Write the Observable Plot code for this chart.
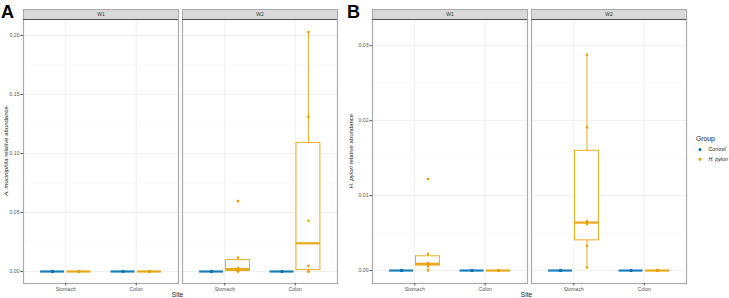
<!DOCTYPE html>
<html>
<head>
<meta charset="utf-8">
<script src="https://cdn.jsdelivr.net/npm/d3@7"></script>
<script src="https://cdn.jsdelivr.net/npm/@observablehq/plot@0.6"></script>
<style>
  body { margin: 0; background: #fff; }
  #fig { position: relative; width: 729px; height: 298px; overflow: hidden; background: #fff;
         font-family: "Liberation Sans", Arial, sans-serif; }
  #fig svg { position: absolute; top: 0; }
</style>
</head>
<body>
<div id="fig"></div>
<script>
const weeks = ["W1", "W2"];
const sites = ["Stomach", "Colon"];
const groups = ["Control", "H. pylori"];
const groupColors = ["#0072B2", "#E69F00"];

// A. muciniphila relative abundance, six mice per group
const akkW1StomachControl = [0, 0, 0, 0, 0, 0];
const akkW1StomachHp      = [0, 0, 0, 0, 0, 0];
const akkW1ColonControl   = [0, 0, 0, 0, 0, 0];
const akkW1ColonHp        = [0, 0, 0, 0, 0, 0];
const akkW2StomachControl = [0, 0, 0, 0, 0, 0];
const akkW2StomachHp      = [0, 0.0002, 0.0010, 0.0030, 0.0119, 0.0596];
const akkW2ColonControl   = [0, 0, 0, 0, 0, 0];
const akkW2ColonHp        = [0, 0, 0.0048, 0.0430, 0.1310, 0.2030];

// H. pylori relative abundance, six mice per group
const hpW1StomachControl = [0, 0, 0, 0, 0, 0];
const hpW1StomachHp      = [0, 0.0006, 0.0008, 0.0010, 0.0022, 0.0122];
const hpW1ColonControl   = [0, 0, 0, 0, 0, 0];
const hpW1ColonHp        = [0, 0, 0, 0, 0, 0];
const hpW2StomachControl = [0, 0, 0, 0, 0, 0];
const hpW2StomachHp      = [0.0004, 0.0033, 0.0062, 0.0066, 0.0191, 0.0288];
const hpW2ColonControl   = [0, 0, 0, 0, 0, 0];
const hpW2ColonHp        = [0, 0, 0, 0, 0, 0];

const akkTicks = [0, 0.05, 0.10, 0.15, 0.20];
const akkMinor = [0.025, 0.075, 0.125, 0.175];
const hpTicks = [0, 0.01, 0.02, 0.03];
const hpMinor = [0.005, 0.015, 0.025];

// long table: one row per mouse
function table(sets) {
  return sets.flatMap(([week, site, group, values]) =>
    values.map(value => ({week, site, group, value})));
}

const akkRows = table([
  ["W1", "Stomach", "Control", akkW1StomachControl],
  ["W1", "Stomach", "H. pylori", akkW1StomachHp],
  ["W1", "Colon", "Control", akkW1ColonControl],
  ["W1", "Colon", "H. pylori", akkW1ColonHp],
  ["W2", "Stomach", "Control", akkW2StomachControl],
  ["W2", "Stomach", "H. pylori", akkW2StomachHp],
  ["W2", "Colon", "Control", akkW2ColonControl],
  ["W2", "Colon", "H. pylori", akkW2ColonHp]
]);

const hpRows = table([
  ["W1", "Stomach", "Control", hpW1StomachControl],
  ["W1", "Stomach", "H. pylori", hpW1StomachHp],
  ["W1", "Colon", "Control", hpW1ColonControl],
  ["W1", "Colon", "H. pylori", hpW1ColonHp],
  ["W2", "Stomach", "Control", hpW2StomachControl],
  ["W2", "Stomach", "H. pylori", hpW2StomachHp],
  ["W2", "Colon", "Control", hpW2ColonControl],
  ["W2", "Colon", "H. pylori", hpW2ColonHp]
]);

// Tukey box statistics (quartiles, 1.5 IQR whiskers)
function boxStats(rows) {
  return d3.flatRollup(rows, v => {
    const vals = v.map(d => d.value).sort(d3.ascending);
    const q1 = d3.quantile(vals, 0.25);
    const median = d3.quantile(vals, 0.5);
    const q3 = d3.quantile(vals, 0.75);
    const iqr = q3 - q1;
    const lo = d3.min(vals.filter(x => x >= q1 - 1.5 * iqr));
    const hi = d3.max(vals.filter(x => x <= q3 + 1.5 * iqr));
    return {q1, median, q3, lo, hi};
  }, d => d.week, d => d.site, d => d.group)
  .map(([week, site, group, s]) => ({week, site, group, ...s}));
}

// dodge the two groups around each site position
const dodge = 0.1875, halfBox = 0.17;
const xpos = d => sites.indexOf(d.site) + 1 + (groups.indexOf(d.group) === 0 ? -dodge : dodge);

const H = 298, MT = 19, MB = 15;
const fontFamily = "Liberation Sans, Arial, sans-serif";

function boxPanel({rows, yDomain, ticks, minor, width, marginLeft, marginRight}) {
  const stats = boxStats(rows);
  return Plot.plot({
    width, height: H, marginTop: MT, marginBottom: MB, marginLeft, marginRight,
    style: {fontFamily, fontSize: "5.1px", background: "transparent", overflow: "visible"},
    fx: {domain: weeks, paddingInner: 0.026, paddingOuter: 0, label: null},
    x: {domain: [0.4, 2.6], label: null},
    y: {domain: yDomain, label: null},
    color: {domain: groups, range: groupColors},
    marks: [
      // facet strip
      Plot.frame({fill: "#d9d9d9", stroke: "#a9a9a9", strokeWidth: 1, insetTop: -10, insetBottom: H - MT - MB}),
      Plot.axisFx({anchor: "top", tickSize: 0, tickPadding: 3.2, label: null, fontSize: 5, color: "#333"}),
      // grid
      Plot.gridY(minor, {stroke: "#f4f4f4", strokeOpacity: 1, strokeWidth: 0.6}),
      Plot.gridY(ticks, {stroke: "#ebebeb", strokeOpacity: 1, strokeWidth: 0.8}),
      Plot.gridX([1, 2], {stroke: "#ebebeb", strokeOpacity: 1, strokeWidth: 0.8}),
      // boxplots
      Plot.ruleX(stats, {x: xpos, y1: "lo", y2: "hi", fx: "week", stroke: "group", strokeWidth: 1, strokeOpacity: 0.85}),
      Plot.rect(stats, {x1: d => xpos(d) - halfBox, x2: d => xpos(d) + halfBox, y1: "q1", y2: "q3",
        fx: "week", fill: "white", stroke: "group", strokeWidth: 1, strokeOpacity: 0.85}),
      Plot.ruleY(stats, {x1: d => xpos(d) - halfBox, x2: d => xpos(d) + halfBox, y: "median",
        fx: "week", stroke: "group", strokeWidth: 2.2, strokeOpacity: 0.9}),
      // individual mice
      Plot.dot(rows, {x: xpos, y: "value", fx: "week", fill: "group", r: 1.3}),
      // panel border
      Plot.frame({stroke: "#ababab", strokeWidth: 1.2}),
      Plot.ruleY([yDomain[1]], {stroke: "#555", strokeWidth: 1}),
      // axes
      Plot.axisY(ticks, {tickFormat: d3.format(".2f"), tickSize: 2.5, tickPadding: 1.5,
        label: null, color: "#555", fontSize: 5.1}),
      Plot.axisX([1, 2], {tickFormat: d => sites[d - 1], tickSize: 2.5, tickPadding: 1.5,
        label: null, color: "#555", fontSize: 5.1})
    ]
  });
}

function addTitles(svg, {letter, letterX, italic, rest, marginLeft, plotWidth, marginRight, titleX}) {
  const s = d3.select(svg);
  s.append("text").attr("x", letterX).attr("y", 17.5).attr("text-anchor", "start")
    .attr("font-family", fontFamily).attr("font-weight", "bold").attr("font-size", 18)
    .attr("fill", "#000").text(letter);
  const yt = s.append("text")
    .attr("transform", `translate(${titleX},${(MT + H - MB) / 2}) rotate(-90)`)
    .attr("text-anchor", "middle").attr("dominant-baseline", "middle")
    .attr("font-family", fontFamily).attr("font-size", 6).attr("fill", "#1a1a1a");
  yt.append("tspan").attr("font-style", "italic").text(italic);
  yt.append("tspan").text(rest);
  s.append("text")
    .attr("x", (marginLeft + plotWidth - marginRight) / 2 - 2).attr("y", 297)
    .attr("text-anchor", "middle")
    .attr("font-family", fontFamily).attr("font-size", 6.6).attr("fill", "#1a1a1a")
    .text("Site");
}

const fig = document.getElementById("fig");

const svgA = boxPanel({rows: akkRows, yDomain: [-0.01017, 0.21356], ticks: akkTicks, minor: akkMinor,
  width: 345, marginLeft: 22, marginRight: 8});
addTitles(svgA, {letter: "A", letterX: 1, italic: "A. muciniphila", rest: " relative abundance",
  marginLeft: 22, plotWidth: 345, marginRight: 8, titleX: 6});
svgA.style.left = "0px";
fig.appendChild(svgA);

const svgB = boxPanel({rows: hpRows, yDomain: [-0.00173, 0.0335], ticks: hpTicks, minor: hpMinor,
  width: 345, marginLeft: 26, marginRight: 4});
addTitles(svgB, {letter: "B", letterX: 2, italic: "H. pylori", rest: " relative abundance",
  marginLeft: 26, plotWidth: 345, marginRight: 4, titleX: 5.5});
svgB.style.left = "345px";
fig.appendChild(svgB);

// legend
const leg = d3.create("svg").attr("width", 39).attr("height", H).style("left", "690px");
leg.append("text").attr("x", 6).attr("y", 140.5)
  .attr("font-family", fontFamily).attr("font-size", 6.8).attr("fill", "#1a1a1a").text("Group");
groups.forEach((g, i) => {
  const cy = 149.5 + i * 9.8;
  leg.append("circle").attr("cx", 10).attr("cy", cy).attr("r", 1.5).attr("fill", groupColors[i]);
  leg.append("text").attr("x", 18.5).attr("y", cy + 1.9)
    .attr("font-family", fontFamily).attr("font-size", 5.3).attr("fill", "#1a1a1a")
    .attr("font-style", i === 1 ? "italic" : "normal").text(g);
});
fig.appendChild(leg.node());
</script>
</body>
</html>
